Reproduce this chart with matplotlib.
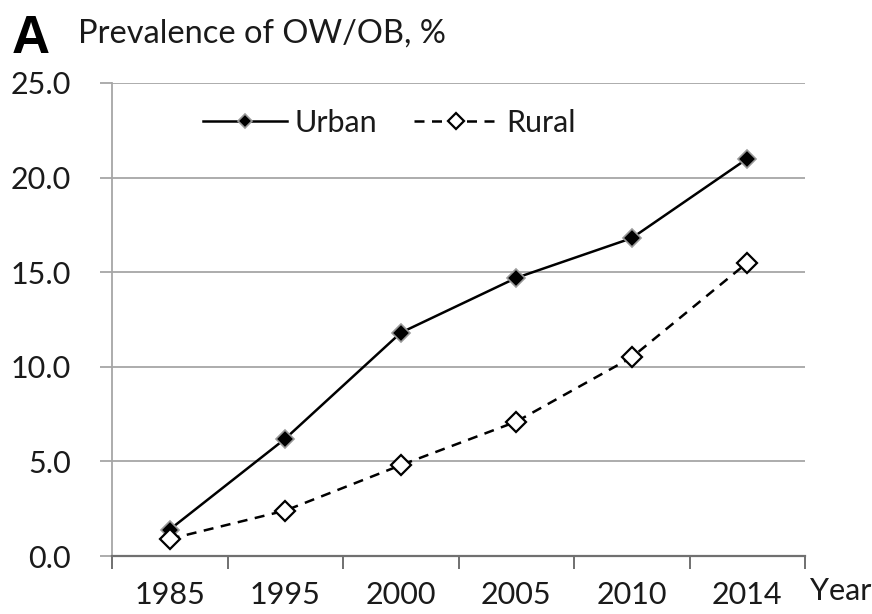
import numpy as np
import matplotlib.pyplot as plt

years = ['1985', '1995', '2000', '2005', '2010', '2014']
urban = [1.4, 6.2, 11.8, 14.7, 16.8, 21.0]
rural = [0.9, 2.4, 4.8, 7.1, 10.5, 15.5]
y_ticks = [0, 5, 10, 15, 20, 25]

plt.rcParams['font.family'] = ['Lato', 'DejaVu Sans']
plt.rcParams['text.color'] = '#1a1a1a'

W, H = 872, 614
fig = plt.figure(figsize=(W / 100, H / 100), dpi=100)
ax = fig.add_axes([112 / W, 1 - 556 / H, (805 - 112) / W, (556 - 83) / H])

x = np.arange(len(years))
ax.plot(x, urban, '-', color='black', lw=1.8, marker='D', ms=9,
        mfc='black', mec='#999999', mew=1.2, label='Urban')
ax.plot(x, rural, '--', color='black', lw=1.8, dashes=(4, 3), marker='D', ms=10.5,
        mfc='white', mec='black', mew=1.6, label='Rural')

ax.set_xlim(-0.5, len(years) - 0.5)
ax.set_ylim(0, 25)

ax.set_yticks(y_ticks)
ax.set_yticklabels(['%.1f' % v for v in y_ticks], fontsize=22, color='#1a1a1a')
ax.yaxis.grid(True, color='#a6a6a6', lw=1.3)
ax.set_axisbelow(True)
ax.tick_params(axis='y', length=8.6, width=1.3, color='#a6a6a6', pad=21)

# tick marks between categories, year labels at category centres
ax.set_xticks(np.arange(len(years) + 1) - 0.5)
ax.set_xticklabels([])
ax.set_xticks(x, minor=True)
ax.set_xticklabels(years, minor=True, fontsize=22, color='#1a1a1a')
ax.tick_params(axis='x', which='major', length=9.5, width=1.4, color='#707070')
ax.tick_params(axis='x', which='minor', length=0, pad=18)

for s in ['top', 'right']:
    ax.spines[s].set_visible(False)
ax.spines['left'].set_color('#a6a6a6')
ax.spines['left'].set_linewidth(1.3)
ax.spines['bottom'].set_color('#707070')
ax.spines['bottom'].set_linewidth(1.6)

leg = fig.legend(loc='center left', bbox_to_anchor=(203 / W, 1 - 123 / H), ncol=2,
                 frameon=False, fontsize=22, handlelength=2.75, columnspacing=1.2,
                 handletextpad=0.26, borderpad=0, borderaxespad=0, markerscale=0.75)

fig.text(12 / W, 1 - 53 / H, 'A', fontsize=38, fontweight='bold', va='baseline',
         family='Liberation Sans', color='black')
fig.text(78 / W, 1 - 43 / H, 'Prevalence of OW/OB, %', fontsize=23.5, va='baseline')
fig.text(810 / W, 1 - 600 / H, 'Year', fontsize=22, va='baseline')

fig.savefig('out.png', dpi=100)
